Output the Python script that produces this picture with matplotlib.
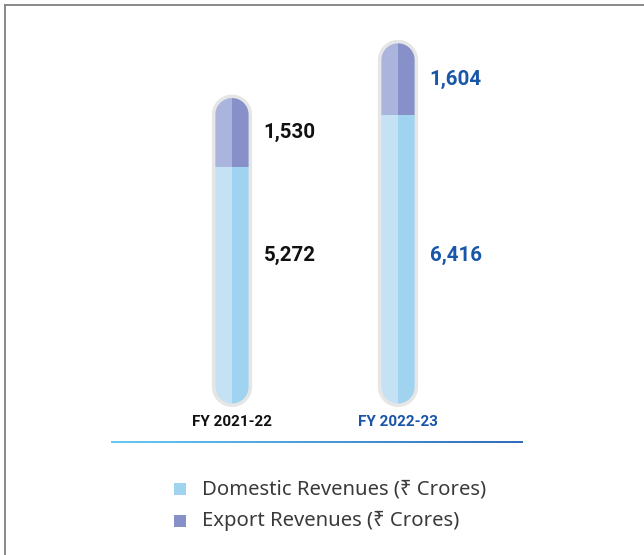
import matplotlib

matplotlib.use("Agg")
import matplotlib.pyplot as plt
import numpy as np
from matplotlib import transforms
from matplotlib.collections import LineCollection
from matplotlib.colors import LinearSegmentedColormap
from matplotlib.lines import Line2D
from matplotlib.patches import PathPatch, Rectangle
from matplotlib.path import Path

plt.rcParams["font.family"] = ["Noto Sans", "DejaVu Sans"]
BOLD_FONT = ["Roboto", "Liberation Sans", "DejaVu Sans"]

# data
years = ["FY 2021-22", "FY 2022-23"]
domestic = [5272, 6416]
export = [1530, 1604]
series_names = ["Domestic Revenues (\u20b9 Crores)", "Export Revenues (\u20b9 Crores)"]

# styles
DOM_LIGHT, DOM_DARK = "#c5e2f5", "#9fd3f0"
EXP_LIGHT, EXP_DARK = "#abb4dc", "#8790c9"
TUBE_GRAY = "#e6e6e6"
LABEL_COLORS = ["#111111", "#1a56a8"]
W, H = 644, 555


def fx(px):
    """pixel x -> figure fraction"""
    return px / W


def fy(py):
    """pixel y (from top) -> figure fraction"""
    return 1 - py / H


def tube_path(x0, y0, x1, y1, pad=0.0):
    """capsule outline in display coords, semicircle ends"""
    x0, y0, x1, y1 = x0 - pad, y0 - pad, x1 + pad, y1 + pad
    r = (x1 - x0) / 2
    cx = (x0 + x1) / 2
    t_top = np.linspace(0, np.pi, 60)
    t_bot = np.linspace(np.pi, 2 * np.pi, 60)
    top = np.column_stack([cx + r * np.cos(t_top), y1 - r + r * np.sin(t_top)])
    bot = np.column_stack([cx + r * np.cos(t_bot), y0 + r + r * np.sin(t_bot)])
    verts = np.vstack([top, bot, top[:1]])
    codes = [Path.MOVETO] + [Path.LINETO] * (len(verts) - 2) + [Path.CLOSEPOLY]
    return Path(verts, codes)


fig = plt.figure(figsize=(W / 100, H / 100), dpi=100)
fig.patch.set_facecolor("white")

ax = fig.add_axes([fx(149), fy(403.5), 332 / W, 395.2 / H])
ax.set_xlim(-0.5, 1.5)
ax.set_ylim(0, 8800)
ax.axis("off")
ax.patch.set_visible(False)

x = np.arange(len(years))
half = 0.1
totals = np.array(domestic) + np.array(export)

bars = []
bars += list(ax.bar(x - half / 2, domestic, width=half, color=DOM_LIGHT, zorder=2))
bars += list(ax.bar(x + half / 2, domestic, width=half, color=DOM_DARK, zorder=2))
bars += list(ax.bar(x - half / 2, export, width=half, bottom=domestic, color=EXP_LIGHT, zorder=2))
bars += list(ax.bar(x + half / 2, export, width=half, bottom=domestic, color=EXP_DARK, zorder=2))

# rounded tube shapes (display coords) for clipping + gray casing
clips = []
for i in range(len(years)):
    x0, y0 = ax.transData.transform((x[i] - half, 0))
    x1, y1 = ax.transData.transform((x[i] + half, totals[i]))
    clip = PathPatch(tube_path(x0, y0, x1, y1),
                     transform=transforms.IdentityTransform())
    clips.append(clip)
    casing = PathPatch(tube_path(x0, y0, x1, y1, pad=3.5), fc=TUBE_GRAY, ec="none",
                       transform=transforms.IdentityTransform(), zorder=-1)
    fig.add_artist(casing)

for j, b in enumerate(bars):
    b.set_clip_path(clips[j % len(years)])

# value labels
for i in range(len(years)):
    ax.text(x[i] + 0.19, domestic[i] + export[i] / 2, f"{export[i]:,}",
            ha="left", va="center", fontsize=14.8, fontweight="bold",
            family=BOLD_FONT, color=LABEL_COLORS[i])
    ax.text(x[i] + 0.19, 3300, f"{domestic[i]:,}",
            ha="left", va="center", fontsize=14.8, fontweight="bold",
            family=BOLD_FONT, color=LABEL_COLORS[i])

# category labels
blend = transforms.blended_transform_factory(ax.transData, ax.transAxes)
for i, name in enumerate(years):
    ax.text(x[i], -0.047, name, transform=blend, ha="center", va="center",
            fontsize=11, fontweight="bold", family=BOLD_FONT,
            color=LABEL_COLORS[i])

# gradient baseline
xs = np.linspace(fx(111), fx(522.5), 200)
pts = np.array([xs, np.full_like(xs, fy(442))]).T.reshape(-1, 1, 2)
segs = np.concatenate([pts[:-1], pts[1:]], axis=1)
base_cmap = LinearSegmentedColormap.from_list("base", ["#55c4f0", "#1d5cb4"])
lc = LineCollection(segs, cmap=base_cmap, norm=plt.Normalize(0, 1),
                    transform=fig.transFigure, linewidth=1.3)
lc.set_array(np.linspace(0, 1, len(segs)))
fig.add_artist(lc)

# legend
for k, (name, col) in enumerate(zip(series_names, [DOM_DARK, EXP_DARK])):
    yc = 489 + k * 32
    fig.add_artist(Rectangle((fx(173.5), fy(yc + 6)), 12.5 / W, 12 / H,
                             transform=fig.transFigure, fc=col, ec="none"))
    fig.text(fx(202), fy(yc), name, ha="left", va="center", fontsize=14.6,
             color="#3a3a3a")

# frame lines (top and left)
fig.add_artist(Line2D([fx(4.5), 1], [fy(4.5), fy(4.5)], transform=fig.transFigure,
                      color="#808080", linewidth=1.3))
fig.add_artist(Line2D([fx(4.5), fx(4.5)], [0, fy(4.5)], transform=fig.transFigure,
                      color="#808080", linewidth=1.3))

fig.savefig("out.png", dpi=100)
